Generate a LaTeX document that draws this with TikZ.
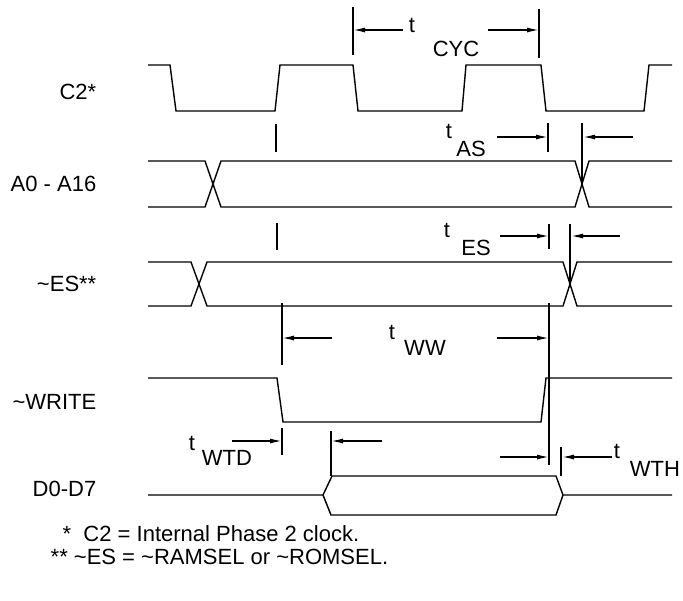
\documentclass[tikz,border=0pt]{standalone}
\usepackage{fontspec}
\setmainfont{Liberation Sans}
\usetikzlibrary{arrows.meta}

\begin{document}
\begin{tikzpicture}[x=1pt, y=-1pt, >={Latex[length=12pt,width=5pt]}, line width=1.4pt,
    signame/.style={anchor=east, inner sep=0pt, font=\fontsize{22}{26}\selectfont},
    tlbl/.style={inner sep=0pt, font=\fontsize{22}{26}\selectfont},
    note/.style={anchor=west, inner sep=0pt, font=\fontsize{22}{26}\selectfont}]
    \useasboundingbox (0,0) rectangle (683,600);
    % signal names
    \node[signame] (nc2) at (97,92) {C2*};
    \node[signame] (na) at (97,184) {A0 - A16};
    \node[signame] (nes) at (97,284) {\textasciitilde ES**};
    \node[signame] (nwr) at (97,402) {\textasciitilde WRITE};
    \node[signame] (nd) at (97,489) {D0-D7};
    % C2 clock
    \draw (148,65) -- (170,65) -- (176,111) -- (275,111) -- (280,65) -- (353,65) -- (358,111)
        -- (462,111) -- (466,65) -- (541,65) -- (546,111) -- (644,111) -- (649,65) -- (672,65);
    % A0 - A16
    \draw (148,161) -- (205,161) -- (221,207) -- (575,207) -- (589,161) -- (672,161);
    \draw (148,207) -- (205,207) -- (221,161) -- (575,161) -- (589,207) -- (672,207);
    % ~ES
    \draw (148,262) -- (191,262) -- (207,306) -- (563,306) -- (577,262) -- (672,262);
    \draw (148,306) -- (191,306) -- (207,262) -- (563,262) -- (577,306) -- (672,306);
    % ~WRITE
    \draw (148,378) -- (277,378) -- (283,422) -- (541,422) -- (546,378) -- (672,378);
    % D0-D7
    \draw (148,495) -- (323,495) -- (332,476) -- (556,476) -- (563,495) -- (672,495);
    \draw (323,495) -- (331,515) -- (556,515) -- (563,495);
    % t CYC
    \draw (353,7) -- (353,55);
    \draw (539,9) -- (539,58);
    \draw[->] (403,30) -- (353,30);
    \draw[->] (488,30) -- (539,30);
    \node[tlbl] (tcyc) at (412,25) {t};
    \node[tlbl] (tcycs) at (456,49) {CYC};
    % t AS
    \draw (276,124) -- (276,152);
    \draw (548,123) -- (548,152);
    \draw (582,123) -- (582,185);
    \draw[->] (497,137) -- (548,137);
    \draw[->] (633,137) -- (583,137);
    \node[tlbl] (tas) at (449,131) {t};
    \node[tlbl] (tass) at (471,149) {AS};
    % t ES
    \draw (277,223) -- (277,250);
    \draw (549,224) -- (549,249);
    \draw (570,224) -- (570,284);
    \draw[->] (500,236) -- (549,236);
    \draw[->] (620,236) -- (571,236);
    \node[tlbl] (tes) at (447,230) {t};
    \node[tlbl] (tess) at (476,248) {ES};
    % t WW
    \draw (282,303) -- (282,365);
    \draw (549,303) -- (549,465);
    \draw[->] (332,338) -- (282,338);
    \draw[->] (497,338) -- (549,338);
    \node[tlbl] (tww) at (392,332) {t};
    \node[tlbl] (twws) at (425,348) {WW};
    % t WTD
    \draw (282,428) -- (282,455);
    \draw (331,431) -- (331,476);
    \draw[->] (232,441) -- (282,441);
    \draw[->] (382,441) -- (331,441);
    \node[tlbl] (twtd) at (192,443) {t};
    \node[tlbl] (twtds) at (227,458) {WTD};
    % t WTH
    \draw (561,447) -- (561,476);
    \draw[->] (500,457) -- (549,457);
    \draw[->] (612,457) -- (562,457);
    \node[tlbl] (twth) at (617,451) {t};
    \node[tlbl] (twths) at (655,469) {WTH};
    % notes
    \node[note] (n1) at (62,534) {*\ \ C2 = Internal Phase 2 clock.};
    \node[note] (n2) at (50,557) {**\ \textasciitilde ES = \textasciitilde RAMSEL or \textasciitilde ROMSEL.};
\end{tikzpicture}
\end{document}
